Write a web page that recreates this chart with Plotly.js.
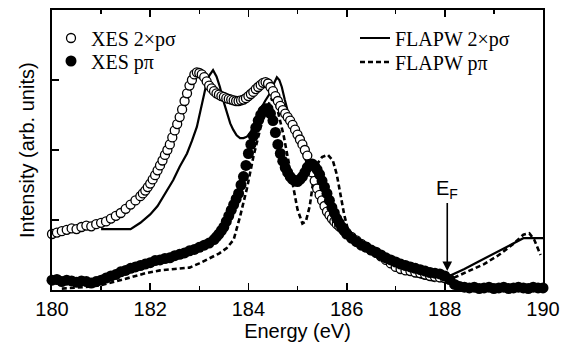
<!DOCTYPE html>
<html>
<head>
<meta charset="utf-8">
<script src="https://cdn.plot.ly/plotly-3.0.1.min.js"></script>
<style>html,body{margin:0;padding:0;background:#fff;}#chart{width:567px;height:351px;}</style>
</head>
<body>
<div id="chart"></div>
<script>
// XES 2×pσ (open circles)
const xesSigmaE = [180.0,180.1,180.2,180.3,180.4,180.5,180.6,180.7,180.8,180.9,
181.0,181.1,181.2,181.3,181.4,181.5,181.6,181.7,
181.8,181.85,181.9,181.95,182.0,182.05,182.1,182.15,182.2,182.25,
182.3,182.35,182.4,182.45,182.5,182.55,182.6,182.65,182.7,182.75,
182.8,182.85,182.9,182.95,183.0,183.05,183.1,183.15,183.2,183.25,
183.3,183.35,183.4,183.45,183.5,183.55,183.6,183.65,183.7,183.75,
183.8,183.85,183.9,183.95,184.0,184.05,184.1,184.15,184.2,184.25,
184.3,184.35,184.4,184.45,184.5,184.55,184.6,184.65,184.7,184.75,
184.8,184.85,184.9,184.95,185.0,185.05,185.1,185.15,185.2,185.25,
185.3,185.35,185.4,185.45,185.5,185.55,185.6,185.65,185.7,185.75,
185.8,185.85,185.9,185.95,186.0,
186.1,186.2,186.3,186.4,186.5,186.6,186.7,186.8,186.9,
187.0,187.1,187.2,187.3,187.4,187.5,187.6,187.7,187.8,187.9,188.0];
const xesSigmaI = [0.80,0.82,0.84,0.86,0.88,0.87,0.90,0.92,0.91,0.94,
0.96,0.98,1.02,1.06,1.10,1.16,1.22,1.28,
1.34,1.38,1.42,1.47,1.52,1.58,1.64,1.71,1.78,1.85,
1.93,2.00,2.08,2.18,2.28,2.37,2.47,2.58,2.70,2.81,
2.92,3.00,3.08,3.11,3.10,3.08,3.04,2.98,2.92,2.88,
2.84,2.81,2.79,2.77,2.76,2.74,2.73,2.72,2.71,2.70,
2.70,2.71,2.72,2.74,2.77,2.80,2.83,2.87,2.90,2.93,
2.96,2.97,2.95,2.90,2.84,2.77,2.70,2.63,2.57,2.52,
2.47,2.42,2.36,2.29,2.22,2.15,2.08,2.00,1.92,1.80,
1.68,1.56,1.45,1.36,1.28,1.20,1.12,1.07,1.02,0.98,
0.94,0.91,0.88,0.85,0.82,
0.76,0.71,0.66,0.62,0.57,0.53,0.48,0.43,0.38,
0.33,0.30,0.28,0.27,0.25,0.24,0.22,0.20,0.19,0.18,0.17];

// XES pπ (filled circles)
const xesPiE = [180.0,180.1,180.2,180.3,180.4,180.5,180.6,180.7,180.8,180.9,
181.0,181.1,181.2,181.3,181.4,181.5,181.6,181.7,181.8,181.9,
182.0,182.1,182.2,182.3,182.4,182.5,182.6,182.7,182.8,182.9,
183.0,183.1,183.2,
183.3,183.35,183.4,183.45,183.5,183.55,183.6,183.65,183.7,183.75,
183.8,183.85,183.9,183.95,184.0,184.05,184.1,184.15,184.2,184.25,
184.3,184.35,184.4,184.45,184.5,184.55,184.6,184.65,184.7,184.75,
184.8,184.85,184.9,184.95,185.0,185.05,185.1,185.15,185.2,185.25,
185.3,185.35,185.4,185.45,185.5,185.55,185.6,185.65,185.7,185.75,
185.8,185.85,185.9,185.95,186.0,
186.1,186.2,186.3,186.4,186.5,186.6,186.7,186.8,186.9,
187.0,187.1,187.2,187.3,187.4,187.5,187.6,187.7,187.8,187.9,
188.0,188.1,188.2,188.3,188.4,188.5,188.6,188.7,188.8,188.9,
189.0,189.1,189.2,189.3,189.4,189.5,189.6,189.7,189.8,189.9,190.0];
const xesPiI = [0.14,0.15,0.12,0.14,0.13,0.11,0.13,0.12,0.10,0.12,
0.14,0.17,0.20,0.22,0.26,0.28,0.31,0.33,0.35,0.37,
0.39,0.42,0.43,0.45,0.46,0.49,0.51,0.53,0.56,0.58,
0.61,0.64,0.67,
0.72,0.76,0.80,0.85,0.90,0.98,1.06,1.14,1.22,1.30,
1.38,1.50,1.62,1.78,1.95,2.08,2.20,2.32,2.42,2.50,
2.56,2.59,2.59,2.52,2.42,2.25,2.08,1.95,1.84,1.75,
1.68,1.62,1.58,1.56,1.55,1.58,1.62,1.68,1.75,1.79,
1.80,1.77,1.72,1.65,1.56,1.47,1.38,1.28,1.18,1.10,
1.02,0.96,0.90,0.85,0.80,
0.74,0.69,0.64,0.61,0.57,0.54,0.50,0.46,0.43,
0.40,0.37,0.35,0.33,0.31,0.29,0.27,0.25,0.24,0.23,
0.20,0.15,0.08,0.05,0.04,0.03,0.04,0.02,0.03,0.04,
0.02,0.03,0.04,0.02,0.03,0.04,0.03,0.02,0.04,0.03,0.03];

// FLAPW 2×pσ (solid line)
const flapwSigmaE = [181.0,181.6,181.8,182.0,182.15,182.3,182.47,182.6,182.75,182.85,
182.95,183.02,183.08,183.15,183.2,183.28,183.35,183.42,183.5,183.56,
183.63,183.69,183.76,183.83,183.9,183.97,184.04,184.1,184.17,184.24,
184.34,184.44,184.52,184.58,184.63,184.68,184.74,184.79,184.85,184.92,
185.0,185.1,185.2,185.3,185.4,185.5,185.6,185.7,185.8,186.0,
186.2,186.4,186.6,186.8,187.0,187.2,187.4,187.6,187.8,188.0,
188.1,188.4,188.7,189.0,189.3,189.6,190.0];
const flapwSigmaI = [0.87,0.87,0.96,1.08,1.20,1.38,1.57,1.76,1.95,2.13,
2.33,2.55,2.76,2.96,3.06,3.14,3.05,2.90,2.68,2.53,
2.38,2.29,2.21,2.17,2.17,2.19,2.25,2.33,2.45,2.57,
2.70,2.81,2.95,3.04,3.00,2.90,2.72,2.57,2.42,2.30,
2.17,1.98,1.80,1.60,1.42,1.28,1.14,1.03,0.96,0.82,
0.70,0.60,0.50,0.41,0.33,0.26,0.20,0.16,0.15,0.17,
0.20,0.30,0.41,0.52,0.63,0.74,0.74];

// FLAPW pπ (dashed line)
const flapwPiE = [180.2,180.5,180.8,181.0,181.3,181.6,181.9,182.2,182.5,182.8,
183.0,183.2,183.4,183.56,183.7,183.83,183.97,184.1,184.24,184.36,
184.46,184.55,184.64,184.72,184.8,184.9,185.0,185.1,185.17,185.25,
185.32,185.4,185.5,185.62,185.72,185.8,185.88,185.95,186.02,186.2,
186.4,186.6,186.8,187.0,187.3,187.6,187.8,188.0,188.2,188.5,
188.8,189.1,189.4,189.6,189.72,189.82,189.9,189.95];
const flapwPiI = [0.02,0.03,0.05,0.07,0.12,0.18,0.24,0.28,0.30,0.32,
0.38,0.45,0.52,0.60,0.72,1.05,1.45,1.90,2.30,2.58,
2.72,2.70,2.45,2.20,1.90,1.50,1.15,0.95,0.98,1.20,
1.55,1.80,1.90,1.93,1.85,1.65,1.35,1.08,0.88,0.72,
0.60,0.50,0.41,0.34,0.25,0.17,0.13,0.13,0.18,0.27,
0.37,0.50,0.66,0.79,0.81,0.72,0.58,0.50];

const fermiE = 188.05;
const xTicks = [180,182,184,186,188,190];

const serif = 'Liberation Serif, Times New Roman, serif';
const sans = 'Liberation Sans, Arial, sans-serif';

const traces = [
  {x: flapwSigmaE, y: flapwSigmaI, mode: 'lines', name: 'FLAPW 2×pσ', legend: 'legend3',
   line: {color: '#000', width: 2.2}, cliponaxis: false},
  {x: flapwPiE, y: flapwPiI, mode: 'lines', name: 'FLAPW pπ', legend: 'legend4',
   line: {color: '#000', width: 2.6, dash: '5px,3px'}, cliponaxis: false},
  {x: xesSigmaE, y: xesSigmaI, mode: 'markers', name: 'XES 2×pσ', legend: 'legend',
   marker: {symbol: 'circle', size: 9, color: '#fff', line: {color: '#000', width: 1.3}}, cliponaxis: false},
  {x: xesPiE, y: xesPiI, mode: 'markers', name: 'XES pπ', legend: 'legend2',
   marker: {symbol: 'circle', size: 11, color: '#000', line: {color: '#000', width: 0}}, cliponaxis: false}
];

const legFont = {family: serif, size: 20, color: '#000'};
function leg(xpx, ypx) {
  return {x: (xpx - 52) / 491, y: (290 - ypx) / 280, xanchor: 'left', yanchor: 'middle',
    font: legFont, bgcolor: 'rgba(0,0,0,0)', borderwidth: 0, itemwidth: 30};
}

const layout = {
  width: 567, height: 351,
  margin: {l: 52, r: 24, t: 10, b: 61},
  paper_bgcolor: '#fff', plot_bgcolor: '#fff',
  showlegend: true,
  legend: leg(51, 38),
  legend2: leg(51, 61),
  legend3: leg(355, 38),
  legend4: leg(355, 62),
  xaxis: {
    range: [180, 190], tickvals: xTicks, ticktext: xTicks.map(String),
    ticks: 'inside', ticklen: 7, tickwidth: 1.8, tickcolor: '#000',
    minor: {dtick: 1, tick0: 180, ticks: 'inside', ticklen: 4, tickwidth: 1.5, tickcolor: '#000'},
    showline: true, linecolor: '#000', linewidth: 2, mirror: 'ticks',
    showgrid: false, zeroline: false,
    tickfont: {family: sans, size: 20, color: '#000'},
    title: {text: 'Energy (eV)', font: {family: sans, size: 20, color: '#000'}, standoff: 4}
  },
  yaxis: {
    range: [0, 4], tickvals: [1, 2, 3], showticklabels: false,
    ticks: 'inside', ticklen: 7, tickwidth: 1.8, tickcolor: '#000',
    showline: true, linecolor: '#000', linewidth: 2, mirror: true,
    showgrid: false, zeroline: false
  },
  annotations: [{
    x: fermiE, y: 0.27, xref: 'x', yref: 'y',
    text: 'E<sub>F</sub>', font: {family: sans, size: 20, color: '#000'},
    showarrow: true, arrowhead: 2, arrowsize: 1.2, arrowwidth: 1.6, arrowcolor: '#000',
    ax: 0, ay: -82, xanchor: 'center'
  }, {
    x: (27 - 52) / 491, y: 0.5, xref: 'paper', yref: 'paper',
    text: 'Intensity (arb. units)', textangle: -90, showarrow: false,
    xanchor: 'center', yanchor: 'middle',
    font: {family: sans, size: 20, color: '#000'}
  }]
};

Plotly.newPlot('chart', traces, layout, {displayModeBar: false, staticPlot: true});
</script>
</body>
</html>
